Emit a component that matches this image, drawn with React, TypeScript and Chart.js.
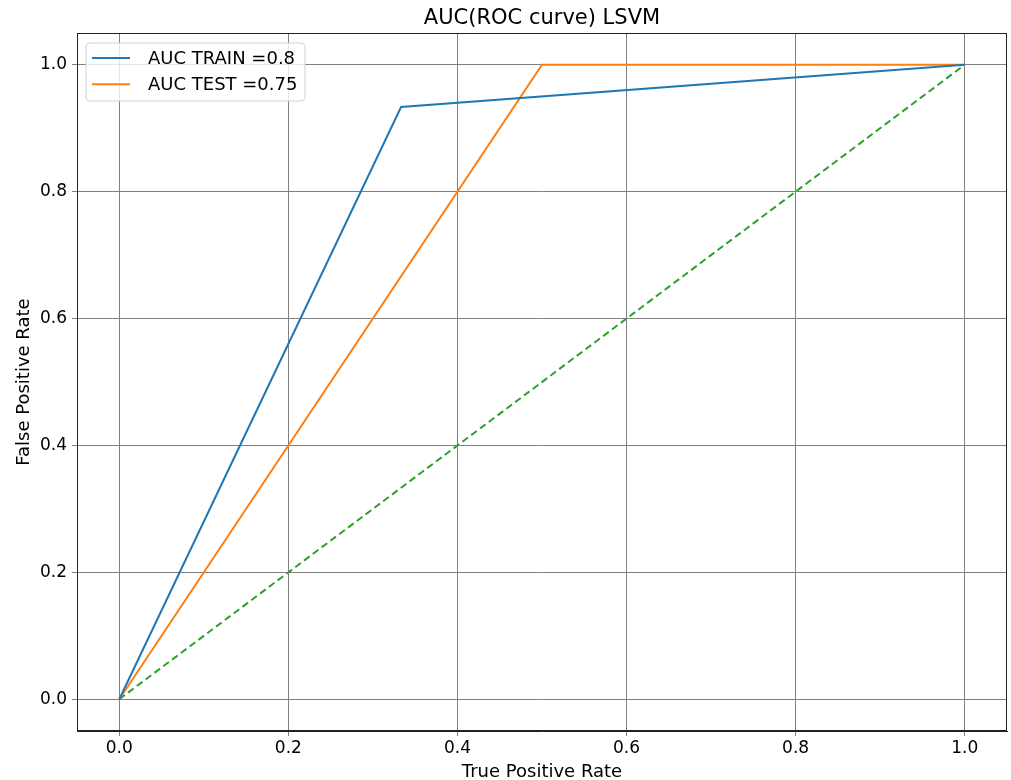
import React, { useEffect, useRef } from "react";
import { Chart, registerables } from "chart.js";

Chart.register(...registerables);

const chartTitle = "AUC(ROC curve) LSVM";
const xAxisLabel = "True Positive Rate";
const yAxisLabel = "False Positive Rate";
const tickValues = [0, 0.2, 0.4, 0.6, 0.8, 1.0];
const tickLabels = ["0.0", "0.2", "0.4", "0.6", "0.8", "1.0"];

const trainLabel = "AUC TRAIN =0.8";
const trainX = [0, 0.3333, 1];
const trainY = [0, 0.9333, 1];

const testLabel = "AUC TEST =0.75";
const testX = [0, 0.5, 1];
const testY = [0, 1, 1];

const diagX = [0, 1];
const diagY = [0, 1];

const FONT = "DejaVu Sans";

const toPoints = (xs: number[], ys: number[]) => xs.map((x, i) => ({ x, y: ys[i] }));

const framePlugin = {
  id: "frame",
  afterDatasetsDraw(chart: any) {
    const { ctx, chartArea } = chart;
    ctx.save();
    ctx.strokeStyle = "#222";
    ctx.lineWidth = 1;
    ctx.strokeRect(
      Math.round(chartArea.left) + 0.5,
      Math.round(chartArea.top) + 0.5,
      Math.round(chartArea.right - chartArea.left) - 1,
      Math.round(chartArea.bottom - chartArea.top) - 1
    );
    ctx.restore();
  },
};

const legendPlugin = {
  id: "boxLegend",
  afterDraw(chart: any) {
    const { ctx, chartArea } = chart;
    const items = chart.data.datasets.filter((d: any) => d.label);
    const x0 = chartArea.left + 9;
    const y0 = chartArea.top + 10;
    const w = 219;
    const h = 58;
    const r = 4;
    ctx.save();
    ctx.beginPath();
    ctx.moveTo(x0 + r, y0);
    ctx.lineTo(x0 + w - r, y0);
    ctx.quadraticCurveTo(x0 + w, y0, x0 + w, y0 + r);
    ctx.lineTo(x0 + w, y0 + h - r);
    ctx.quadraticCurveTo(x0 + w, y0 + h, x0 + w - r, y0 + h);
    ctx.lineTo(x0 + r, y0 + h);
    ctx.quadraticCurveTo(x0, y0 + h, x0, y0 + h - r);
    ctx.lineTo(x0, y0 + r);
    ctx.quadraticCurveTo(x0, y0, x0 + r, y0);
    ctx.closePath();
    ctx.fillStyle = "rgba(255,255,255,0.8)";
    ctx.fill();
    ctx.strokeStyle = "#d0d0d0";
    ctx.lineWidth = 1;
    ctx.stroke();
    items.forEach((d: any, i: number) => {
      const y = y0 + 15 + i * 26.3;
      ctx.beginPath();
      ctx.moveTo(x0 + 6, y);
      ctx.lineTo(x0 + 44, y);
      ctx.strokeStyle = d.borderColor;
      ctx.lineWidth = 2;
      ctx.stroke();
      ctx.fillStyle = "#000";
      ctx.font = `18px "${FONT}"`;
      ctx.textBaseline = "middle";
      ctx.textAlign = "left";
      ctx.fillText(d.label, x0 + 62, y + 1);
    });
    ctx.restore();
  },
};

export default function App() {
  const canvasRef = useRef<HTMLCanvasElement | null>(null);

  useEffect(() => {
    if (!canvasRef.current) return;
    Chart.defaults.font.family = FONT;
    const gridColor = "#808080";
    const chart = new Chart(canvasRef.current, {
      type: "scatter",
      data: {
        datasets: [
          {
            label: trainLabel,
            data: toPoints(trainX, trainY),
            showLine: true,
            borderColor: "#1f77b4",
            backgroundColor: "#1f77b4",
            borderWidth: 2,
            pointRadius: 0,
            fill: false,
          },
          {
            label: testLabel,
            data: toPoints(testX, testY),
            showLine: true,
            borderColor: "#ff7f0e",
            backgroundColor: "#ff7f0e",
            borderWidth: 2,
            pointRadius: 0,
            fill: false,
          },
          {
            label: "",
            data: toPoints(diagX, diagY),
            showLine: true,
            borderColor: "#2ca02c",
            backgroundColor: "#2ca02c",
            borderWidth: 2,
            borderDash: [7, 4],
            pointRadius: 0,
            fill: false,
          },
        ],
      },
      options: {
        animation: false,
        responsive: false,
        devicePixelRatio: 1,
        layout: { padding: { top: 0, right: 4, left: 0, bottom: 0 } },
        plugins: {
          legend: { display: false },
          tooltip: { enabled: false },
          title: {
            display: true,
            text: chartTitle,
            fullSize: false,
            color: "#000",
            font: { family: FONT, size: 21, weight: "normal" },
            padding: { top: 5.5, bottom: 2.3 },
          },
        },
        scales: {
          x: {
            type: "linear",
            min: -0.05,
            max: 1.05,
            afterBuildTicks: (s: any) => {
              s.ticks = tickValues.map((v) => ({ value: v }));
            },
            afterFit: (s: any) => {
              s.height = 49;
            },
            ticks: {
              color: "#000",
              font: { family: FONT, size: 17 },
              padding: 2,
              maxRotation: 0,
              callback: (_v: any, i: number) => tickLabels[i],
            },
            grid: { color: gridColor, lineWidth: 1, tickLength: 5, drawTicks: true },
            border: { display: true, color: "#222", width: 1 },
            title: {
              display: true,
              text: xAxisLabel,
              color: "#000",
              font: { family: FONT, size: 18 },
              padding: { top: 0, bottom: -3 },
            },
          },
          y: {
            type: "linear",
            min: -0.05,
            max: 1.05,
            afterBuildTicks: (s: any) => {
              s.ticks = tickValues.map((v) => ({ value: v }));
            },
            afterFit: (s: any) => {
              s.width = 77;
            },
            ticks: {
              color: "#000",
              font: { family: FONT, size: 17 },
              padding: 5,
              callback: (_v: any, i: number) => tickLabels[i],
            },
            grid: { color: gridColor, lineWidth: 1, tickLength: 5, drawTicks: true },
            border: { display: true, color: "#222", width: 1 },
            title: {
              display: true,
              text: yAxisLabel,
              color: "#000",
              font: { family: FONT, size: 18 },
              padding: { top: 14, bottom: 0 },
            },
          },
        },
      },
      plugins: [framePlugin, legendPlugin],
    } as any);
    return () => chart.destroy();
  }, []);

  return (
    <div style={{ position: "fixed", left: 0, top: 0, width: 1011, height: 780, background: "#fff" }}>
      <canvas ref={canvasRef} width={1011} height={780} style={{ display: "block" }} />
    </div>
  );
}
